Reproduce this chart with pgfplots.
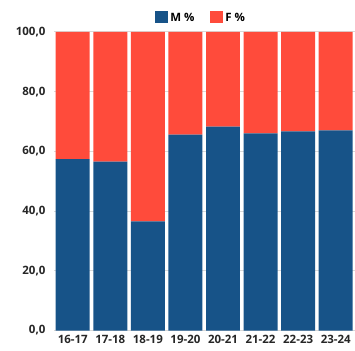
\documentclass[border=0pt]{standalone}
\usepackage{pgfplots}
\pgfplotsset{compat=1.18}
\usepackage{fontspec}
\setmainfont{Open Sans}
\definecolor{mblue}{HTML}{175388}
\definecolor{fred}{HTML}{FF4B3B}

\begin{document}
\begin{tikzpicture}[x=1pt,y=1pt]
\begin{axis}[
    name=ax,
    scale only axis,
    width=301pt, height=299pt,
    ybar stacked,
    bar width=34pt,
    ymin=0, ymax=100,
    xmin=-0.5, xmax=7.5,
    xtick={0,...,7},
    xticklabels={16-17,17-18,18-19,19-20,20-21,21-22,22-23,23-24},
    ytick={0,20,40,60,80,100},
    yticklabel style={/pgf/number format/fixed,/pgf/number format/fixed zerofill,
        /pgf/number format/precision=1,/pgf/number format/use comma, xshift=-5pt},
    /pgf/number format/assume math mode=true,
    ticklabel style={font=\bfseries\fontsize{11.5}{13}\selectfont, text=black!85},
    axis line style={draw=none},
    tick style={draw=none},
    ymajorgrids,
    grid style={gray!30, line width=1pt},
    legend style={at={(0.49,1.0)}, anchor=south, yshift=5pt, draw=none, legend columns=2,
        font=\bfseries\fontsize{11.5}{13}\selectfont,
        /tikz/every even column/.append style={column sep=14pt}},
    legend image code/.code={\fill[#1] (0pt,-5pt) rectangle (13pt,7pt);},
    xticklabel style={yshift=-1pt},
]
\addplot[fill=mblue, draw=none] coordinates {
    (0,57.4) (1,56.6) (2,36.6) (3,65.6) (4,68.3) (5,66.0) (6,66.7) (7,67.0)
};
\addplot[fill=fred, draw=none] coordinates {
    (0,42.6) (1,43.4) (2,63.4) (3,34.4) (4,31.7) (5,34.0) (6,33.3) (7,33.0)
};
\legend{M \%, F \%}
\end{axis}
\path ([xshift=-54pt,yshift=-20pt]ax.south west) rectangle ([yshift=32pt]ax.north east);
\end{tikzpicture}
\end{document}
